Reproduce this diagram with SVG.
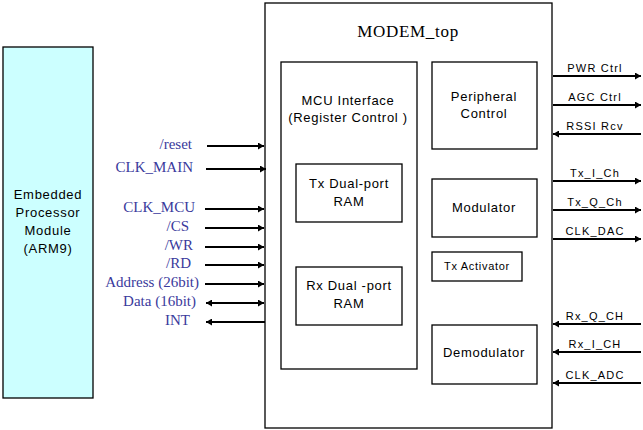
<svg xmlns="http://www.w3.org/2000/svg" width="643" height="430" viewBox="0 0 643 430">
<style>
.box{fill:#ffffff;stroke:#000;stroke-width:1.3}
.sans{font-family:"Liberation Sans",Arial,sans-serif;fill:#000;text-anchor:middle;font-size:13px;letter-spacing:0.7px}
.sig{font-family:"Liberation Serif","Times New Roman",serif;fill:#3a3a9c;font-size:15px;text-anchor:end}
.rsig{font-family:"Liberation Sans",Arial,sans-serif;fill:#000;font-size:11px;letter-spacing:1.2px;text-anchor:middle}
.ln{stroke:#000;stroke-width:2;fill:none}
</style>
<defs>
<marker id="ah" viewBox="0 0 6 7" refX="6" refY="3.5" markerWidth="6" markerHeight="7" markerUnits="userSpaceOnUse" orient="auto-start-reverse">
<path d="M0,0 L6,3.5 L0,7 z" fill="#000"/>
</marker>
</defs>
<rect width="643" height="430" fill="#fff"/>

<g id="embedded">
<rect x="3" y="47" width="90" height="351" fill="#ccffff" stroke="#000" stroke-width="1.3"/>
<text class="sans" x="48" y="199">Embedded</text>
<text class="sans" x="48" y="217">Processor</text>
<text class="sans" x="48" y="235">Module</text>
<text class="sans" x="48" y="253">(ARM9)</text>
</g>

<g id="modem_top">
<rect class="box" x="265" y="3" width="287" height="425"/>
<text x="408" y="37" font-family="'Liberation Serif','Times New Roman',serif" font-size="17" letter-spacing="0.7" text-anchor="middle" fill="#000">MODEM_top</text>
</g>

<g id="mcu_interface">
<rect class="box" x="281" y="62" width="136" height="307"/>
<text class="sans" x="348" y="105">MCU Interface</text>
<text class="sans" x="348" y="122">(Register Control )</text>
</g>

<g id="tx_ram">
<rect class="box" x="296" y="164" width="106" height="58"/>
<text class="sans" x="349" y="188">Tx Dual-port</text>
<text class="sans" x="349" y="206">RAM</text>
</g>

<g id="rx_ram">
<rect class="box" x="296" y="267" width="106" height="58"/>
<text class="sans" x="349" y="290">Rx Dual -port</text>
<text class="sans" x="349" y="308">RAM</text>
</g>

<g id="peripheral">
<rect class="box" x="432" y="62" width="105" height="87"/>
<text class="sans" x="484" y="101">Peripheral</text>
<text class="sans" x="484" y="118">Control</text>
</g>

<g id="modulator">
<rect class="box" x="432" y="179" width="105" height="58"/>
<text class="sans" x="484" y="212">Modulator</text>
</g>

<g id="tx_activator">
<rect class="box" x="432" y="252" width="90" height="29"/>
<text class="sans" x="477" y="270" style="font-size:11px">Tx Activator</text>
</g>

<g id="demodulator">
<rect class="box" x="432" y="325" width="105" height="59"/>
<text class="sans" x="484" y="357">Demodulator</text>
</g>

<g id="labels">
<text class="sig" x="192" y="149">/reset</text>
<text class="sig" x="193" y="172">CLK_MAIN</text>
<text class="sig" x="195" y="212">CLK_MCU</text>
<text class="sig" x="189" y="231">/CS</text>
<text class="sig" x="193" y="250">/WR</text>
<text class="sig" x="191" y="268">/RD</text>
<text class="sig" x="199" y="287">Address (26bit)</text>
<text class="sig" x="196" y="306">Data (16bit)</text>
<text class="sig" x="190" y="325">INT</text>
<text class="rsig" x="595" y="72">PWR Ctrl</text>
<text class="rsig" x="595" y="101">AGC Ctrl</text>
<text class="rsig" x="595" y="130">RSSI Rcv</text>
<text class="rsig" x="595" y="177">Tx_I_Ch</text>
<text class="rsig" x="595" y="206">Tx_Q_Ch</text>
<text class="rsig" x="595" y="235">CLK_DAC</text>
<text class="rsig" x="595" y="320">Rx_Q_CH</text>
<text class="rsig" x="595" y="348">Rx_I_CH</text>
<text class="rsig" x="595" y="379">CLK_ADC</text>
</g>

<g id="connectors">
<line class="ln" x1="207" y1="146" x2="264" y2="146" marker-end="url(#ah)"/>
<line class="ln" x1="206" y1="169" x2="266" y2="169" marker-end="url(#ah)"/>
<line class="ln" x1="205" y1="209" x2="264" y2="209" marker-end="url(#ah)"/>
<line class="ln" x1="205" y1="228" x2="264" y2="228" marker-end="url(#ah)"/>
<line class="ln" x1="205" y1="247" x2="264" y2="247" marker-end="url(#ah)"/>
<line class="ln" x1="205" y1="265" x2="264" y2="265" marker-end="url(#ah)"/>
<line class="ln" x1="205" y1="284" x2="264" y2="284" stroke-width="3" marker-end="url(#ah)"/>
<line class="ln" x1="206" y1="303" x2="264" y2="303" marker-start="url(#ah)" marker-end="url(#ah)"/>
<line class="ln" x1="265" y1="322" x2="206" y2="322" marker-end="url(#ah)"/>

<line class="ln" x1="553" y1="76" x2="641" y2="76" marker-end="url(#ah)"/>
<line class="ln" x1="553" y1="105" x2="641" y2="105" stroke-width="2.5" marker-end="url(#ah)"/>
<line class="ln" x1="641" y1="134" x2="553" y2="134" marker-end="url(#ah)"/>
<line class="ln" x1="553" y1="181" x2="641" y2="181" marker-end="url(#ah)"/>
<line class="ln" x1="553" y1="210" x2="641" y2="210" marker-end="url(#ah)"/>
<line class="ln" x1="553" y1="239" x2="641" y2="239" marker-end="url(#ah)"/>
<line class="ln" x1="641" y1="324" x2="553" y2="324" marker-end="url(#ah)"/>
<line class="ln" x1="641" y1="352" x2="553" y2="352" marker-end="url(#ah)"/>
<line class="ln" x1="641" y1="383" x2="553" y2="383" marker-end="url(#ah)"/>
</g>
</svg>
